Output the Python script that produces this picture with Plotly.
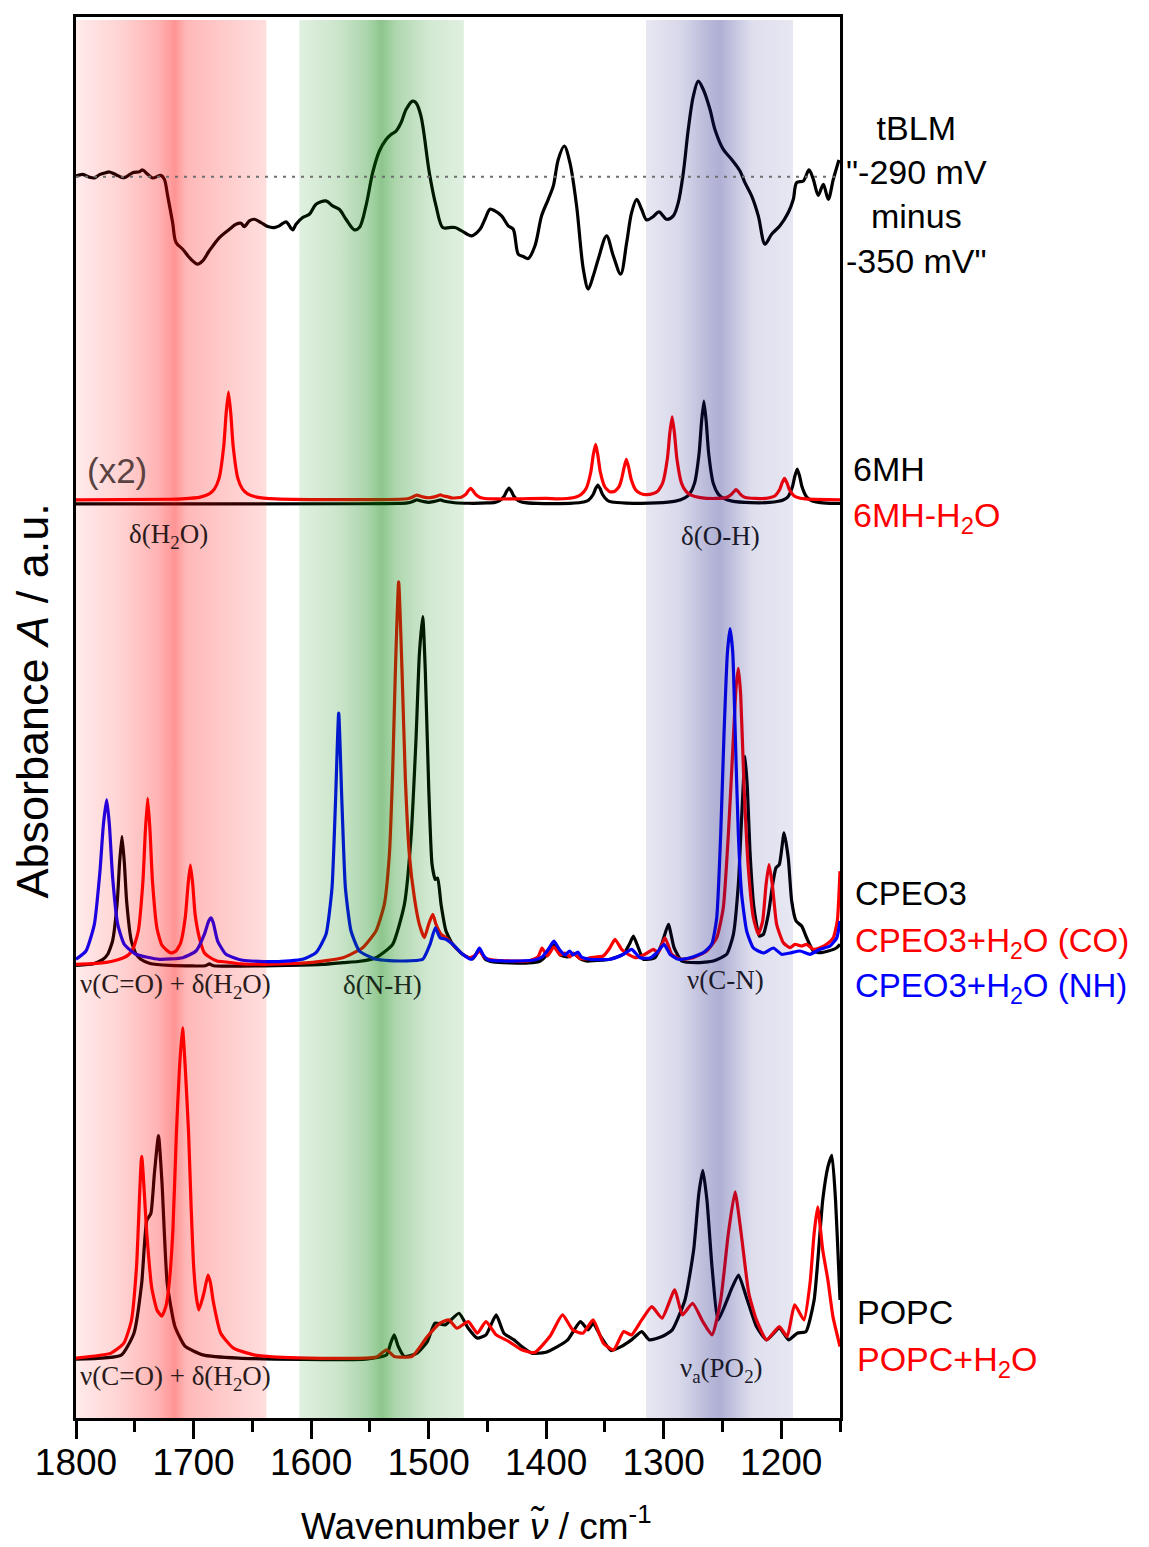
import plotly.graph_objects as go

# ---------------- data (wavenumber / cm-1, absorbance in a.u. relative to each baseline) ----------------
tblm_wn = [1800, 1794.3, 1788.7, 1784.4, 1780, 1774.5, 1771.6, 1766, 1760.3, 1757.5, 1751.8, 1746, 1743.3, 1739,
           1734.8, 1727.7, 1724.8, 1722, 1717.8, 1714.9, 1709.2, 1703.6, 1696.5, 1692.2, 1686.6, 1678, 1669.5,
           1663.9, 1659.6, 1656.8, 1652.5, 1648.3, 1642.6, 1636.9, 1631.3, 1627, 1621.3, 1615.7, 1612.8, 1607.1,
           1601.5, 1595.8, 1587.3, 1581.6, 1576, 1570.3, 1563.2, 1558.9, 1553.3, 1547.6, 1541.9, 1536.2, 1532,
           1527.7, 1523.5, 1519.2, 1513.6, 1510.7, 1506.5, 1499.4, 1493.7, 1488, 1482.4, 1477.6, 1471.9, 1463.4,
           1456.3, 1452.1, 1447.8, 1443.6, 1437.9, 1432.2, 1428, 1423.7, 1419.5, 1415.2, 1409.5, 1403.9, 1398.2,
           1393.9, 1389.7, 1384.6, 1379.8, 1374.1, 1368.4, 1364.2, 1359.9, 1355.7, 1348.6, 1342.9, 1336.6, 1331.5,
           1327.3, 1323, 1318.8, 1314.5, 1308.9, 1304, 1297.5, 1291.8, 1287.6, 1283.3, 1279.1, 1274.8, 1270.6,
           1266.3, 1260.6, 1256.4, 1249.3, 1242.2, 1235.1, 1230.9, 1225.2, 1219.5, 1213.8, 1208.2, 1201.1, 1194,
           1189.7, 1186.9, 1181.2, 1176.4, 1172.7, 1168.5, 1164.2, 1160, 1155.7, 1150.9]
tblm_abs = [0.7, 2.3, -0.5, -1.3, 2, 4, 4.7, 2, -1, -0.3, 4, 5, 6.7, 2.3,
            -1.3, 1.3, -2.7, -19.3, -46, -66, -72.7, -81, -87.7, -84.3, -74.3, -61, -52.7,
            -47.7, -46.7, -50, -44.3, -42.7, -46, -50, -51, -49.3, -45.3, -53.3, -47.7, -41,
            -37.7, -27.7, -24.3, -29.3, -32.7, -42.7, -53.3, -51, -29.3, 4, 25.7, 37.3, 42.3,
            45.7, 54, 67.3, 75.7, 74, 60.7, 4, -29.3, -51, -51, -51, -54.3, -59.3,
            -52.7, -42.7, -32.7, -34.3, -39.3, -49.3, -52.7, -77.7, -80, -82, -69.3, -39.3, -22.7,
            -9.3, 17.3, 30.7, 14, -29.3, -92.7, -112.7, -99.3, -82.7, -59.3, -79.3, -97.7, -66,
            -36, -22.7, -32.7, -43.3, -40, -35.3, -42.7, -39.3, -26, 4, 47.3, 80.7, 95.7,
            87.3, 67.3, 47.3, 27.3, 17.3, 5.7, -6, -19.3, -39.3, -67.7, -57.7, -49.3, -36,
            -22.7, -6, -4.3, 6.7, -2.7, -18.7, -7.7, -22.7, -2.7, 16.7]

mh_wn = [1800, 1560, 1526, 1518, 1514, 1512, 1510, 1508, 1504, 1500, 1496, 1492, 1490, 1488, 1484, 1478, 1466,
         1450, 1443.6, 1439.6, 1435.6, 1433.6, 1431.6, 1429.6, 1427.6, 1423.6, 1419.6, 1407.6, 1380, 1372, 1368,
         1364, 1360, 1358, 1356, 1354, 1352, 1348, 1344, 1332, 1306, 1290, 1282, 1277.8, 1273.8, 1269.8, 1267.8,
         1265.8, 1263.8, 1261.8, 1257.8, 1253.8, 1249.8, 1241.8, 1226, 1210, 1202.4, 1198.4, 1194.4, 1190.4,
         1188.4, 1186.4, 1184.4, 1182.4, 1178.4, 1174.4, 1170.4, 1162, 1150]
mh_abs = [0, 0.2, 0.5, 1.1, 2.3, 3.3, 4.2, 3.5, 2.3, 1.6, 2.3, 3.5, 4.2, 3.3, 2.2, 1.2, 0.7,
          1.0, 1.6, 3.2, 8, 12.8, 16, 12.8, 8, 3.2, 1.6, 0.5, 0.6, 1.2, 1.9,
          3.8, 9.5, 15.2, 19, 15.2, 9.5, 3.8, 1.9, 0.9, 1.0, 2.8, 6.1, 10.3, 20.6, 51.5, 82.4,
          103, 82.4, 51.5, 20.6, 10.3, 6.1, 2.8, 1.3, 1.5, 2.7, 4, 7, 17.5,
          28, 35, 28, 17.5, 7, 3.5, 2.1, 0.9, 0.5]

mhw_wn = [1800, 1720, 1710, 1694.3, 1686.3, 1682.3, 1678.3, 1674.3, 1672.3, 1670.3, 1668.3, 1666.3, 1662.3,
          1658.3, 1654.3, 1646.3, 1630, 1600, 1540, 1518, 1514, 1512, 1510, 1508, 1504, 1500, 1496, 1492,
          1490, 1488, 1484, 1480, 1472.2, 1468.2, 1466.2, 1464.2, 1462.2, 1460.2, 1456.2, 1452, 1440, 1420,
          1400, 1390, 1382, 1374, 1370, 1366, 1362, 1360, 1357.9, 1356, 1354, 1350, 1346, 1342, 1338, 1335.8,
          1333.8, 1331.8, 1329.8, 1327.8, 1323.8, 1319.8, 1315.8, 1308.8, 1304.8, 1300.8, 1296.8, 1294.8,
          1292.8, 1290.8, 1288.8, 1284.8, 1280.8, 1276.8, 1268.8, 1256, 1246.5, 1242.5, 1240.5, 1238.5, 1236.5,
          1234.5, 1230.5, 1222, 1213.2, 1209.2, 1205.2, 1201.2, 1199.2, 1197.2, 1195.2, 1193.2, 1189.2,
          1185.2, 1177, 1160, 1150]
mhw_abs = [0, 0.7, 1.1, 2.9, 6.4, 10.8, 21.6, 54, 86.4, 108, 86.4, 54, 21.6,
           10.8, 6.4, 2.9, 1.0, 0.4, 0.4, 1.2, 2.8, 4, 5, 4.2, 2.8, 2.2, 2.9, 4.3,
           5.2, 4.2, 3.3, 2, 2.8, 5.8, 9.3, 11.6, 9.3, 5.8, 2.4, 1.5, 1, 1.2,
           1.5, 1, 1.5, 3.3, 5.8, 11.4, 28, 44.6, 55.7, 44.8, 28.5, 13, 8.3, 8.4, 13.3, 21,
           32, 40.6, 32.7, 21.3, 10.1, 6.6, 5.4, 6.5, 9.1, 17.2, 42, 67,
           83.3, 66.4, 41.5, 16.6, 8.3, 4.9, 2.4, 1.5, 2.6, 5.5, 8, 10.3, 8.3,
           5.4, 2.4, 1.5, 1.6, 2.4, 4.3, 10.8, 17.3, 21.6, 17.3, 10.8, 4.3,
           2.2, 0.8, 0.3, 0.2]

cpeo_wn = [1800, 1785, 1776.9, 1772.9, 1768.9, 1764.9, 1762.9, 1760.9, 1758.9, 1756.9, 1752.9, 1748.9, 1744.9,
           1737, 1720, 1700, 1690, 1686.5, 1683, 1660, 1620, 1590, 1573, 1560, 1544.8, 1530.6, 1520.6, 1515,
           1510.7, 1507.9, 1505, 1502.8, 1499.9, 1497.1, 1494.3, 1492.3, 1489.4, 1485.2, 1479.5, 1471, 1462.5,
           1456.8, 1452, 1445, 1430, 1415, 1405, 1398, 1393.4, 1388, 1382, 1376, 1371, 1366, 1362.7, 1345.7,
           1334.3, 1329.2, 1325.8, 1321.6, 1317.3, 1307.4, 1301.7, 1296, 1291.2, 1284.7, 1271.9, 1257.8, 1246.4,
           1240.7, 1236.5, 1233.7, 1230.8, 1228.8, 1226.6, 1223.2, 1218.6, 1215.2, 1211, 1207.3, 1204.5, 1201.6,
           1197.6, 1194, 1191.1, 1187.4, 1182.6, 1178.4, 1172.7, 1167, 1160, 1152.8, 1150]
cpeo_abs = [1.5, 3.3, 7.7, 13, 26, 65.5, 105, 131, 105, 65.5, 26, 13, 7.7,
            3.5, 1.5, 1, 1.2, 3, 1.2, 0.8, 1.5, 2.5, 4.3, 5.5, 9.3, 22.7, 62.7, 129,
            229, 312.7, 351, 296, 179, 103, 87.7, 89, 62.7, 36, 22.7, 12.7, 8,
            18, 8, 5, 4, 4, 6, 14, 22, 12, 10, 13, 8, 6, 6, 7.7,
            12.7, 22.7, 31, 19.3, 7.7, 9.3, 22.7, 42.7, 19.3, 6, 4.3, 6, 12.7,
            32.7, 82.7, 149.3, 211, 179, 116, 59.3, 31, 32.7, 52.7, 82.7, 99.3, 102.7,
            134.3, 109, 66, 46, 41, 29.3, 16, 14.3, 16, 19.3, 22.7]

cpeo_co_wn = [1800, 1780, 1770, 1760, 1755, 1751, 1747, 1743, 1741, 1739, 1737, 1735, 1731, 1727, 1723, 1719,
              1715, 1711, 1707, 1704.7, 1702.7, 1700.7, 1698.7, 1695, 1690.7, 1686.6, 1680, 1672, 1660, 1644,
              1620, 1601.5, 1573, 1556.1, 1544.8, 1537.7, 1533.4, 1530.6, 1528.3, 1525.5, 1522.6, 1519.8,
              1516.4, 1512.1, 1507.9, 1503.6, 1500, 1496.5, 1493.7, 1489.4, 1485.2, 1479.5, 1471, 1465.3, 1460,
              1456.8, 1452, 1445, 1430, 1415, 1407, 1403.5, 1399, 1393.4, 1388, 1384, 1380, 1377, 1372, 1366,
              1362.7, 1351.4, 1345.7, 1341.4, 1335.8, 1330.1, 1323, 1315.9, 1308.8, 1304.6, 1298.9, 1293.2,
              1286.1, 1274.8, 1263.4, 1254.9, 1249.3, 1245, 1241.3, 1238.5, 1236.5, 1234.5, 1231.7, 1228,
              1223.7, 1219.5, 1215.8, 1212.9, 1210.4, 1207.6, 1203.9, 1198.2, 1192.5, 1188.3, 1182.6, 1178.4,
              1172.7, 1167, 1161.4, 1155.7, 1152.3, 1150]
cpeo_co_abs = [0.5, 1.8, 3.5, 7, 10.5, 17.5, 34, 85, 134, 167, 134, 85, 36, 20, 15, 12,
               14, 22, 48, 80, 100, 81, 51, 27, 12, 8, 4, 3, 1.2, 0.7,
               1.2, 2.3, 7.3, 17.3, 34, 60.7, 110.7, 194, 294, 384, 294, 187,
               110.7, 67.3, 40.7, 27.3, 40.7, 50.7, 40.7, 30.7, 27.3, 20.7, 10.7, 7, 10,
               14, 7, 5, 4, 4, 8, 17, 9, 18, 10, 12, 8, 12, 7, 6,
               7.3, 9, 17.3, 25.7, 15.7, 10.7, 7.3, 10.7, 15.7, 12.3, 27.3, 10.7,
               5.7, 7.3, 14, 27.3, 57.3, 130.7, 214, 277.3, 297.3, 270.7, 180.7, 97.3,
               47.3, 30.7, 44, 80.7, 100.7, 80.7, 40.7, 22.3, 17.3, 20.7, 19, 20.7,
               15.7, 17.3, 20.7, 27.3, 44, 94]

cpeo_nh_wn = [1800, 1791.5, 1784.4, 1779.6, 1776.7, 1773.9, 1771.6, 1768.8, 1764.5, 1758.9, 1748.9, 1729.1,
              1709.2, 1697.9, 1690.8, 1687.1, 1685.1, 1683.2, 1679.5, 1672.4, 1658.2, 1629.8, 1607.1, 1595.8,
              1587.3, 1582.2, 1579.3, 1576.5, 1573.7, 1570.8, 1566, 1558.9, 1544.8, 1522.1, 1505, 1498.8,
              1494.3, 1490.3, 1485.2, 1479.5, 1471, 1463.9, 1460, 1456.8, 1453, 1449, 1436, 1423, 1410, 1403.5,
              1398, 1393.4, 1389, 1384, 1380, 1377, 1373, 1370, 1362.7, 1345.7, 1334.3, 1327.3, 1320.2, 1311.7,
              1306, 1299.7, 1294.6, 1287.5, 1277.6, 1266.3, 1259.2, 1254.9, 1251.5, 1248.7, 1245.9, 1243.6,
              1241.3, 1239.1, 1236.5, 1233.7, 1229.4, 1223.7, 1215.2, 1206.7, 1199.6, 1192.5, 1184, 1175.5,
              1167, 1158.5, 1152.8, 1150]
cpeo_nh_abs = [3.7, 12, 38.7, 92, 138.7, 163.7, 138.7, 85.3, 38.7, 18.7, 8.7, 3.7,
               5.3, 12, 28.7, 42, 45.3, 40.3, 22, 8.7, 2.7, 1.3, 3.7, 10.3,
               28.7, 75.3, 158.7, 250.3, 158.7, 75.3, 32, 12, 3.7, 2, 3.7, 18.7,
               35.3, 25.3, 23.7, 18.7, 8.7, 3.7, 8, 15, 7, 3, 2, 2, 3, 6,
               14, 22, 14, 8, 12, 8, 11, 6, 3.7, 3.7, 8.7, 13.7, 5.3, 5,
               10, 18.7, 8.7, 3.7, 5.3, 10.3, 18.7, 45, 129, 229, 309, 335,
               312, 229, 129, 69, 32, 15, 10, 15, 8.7, 10, 12, 8.7,
               13.7, 17, 25, 42]

popc_wn = [1800, 1761.5, 1750.7, 1744.1, 1739.8, 1736.3, 1733.3, 1729.8, 1726.8, 1722.4, 1715.9, 1707.3, 1692.1,
           1661.7, 1553.2, 1535.8, 1532.3, 1529.3, 1525.8, 1520.6, 1509.8, 1501.1, 1494.6, 1485.9, 1474.2,
           1466.3, 1458.5, 1451.2, 1442.5, 1436, 1427.3, 1420.8, 1412.1, 1401.2, 1390.4, 1381.7, 1370.9,
           1364.3, 1360, 1353.5, 1344.8, 1336.2, 1327.4, 1318.7, 1312.2, 1301.4, 1292.7, 1281.9, 1274.5,
           1270.1, 1266.7, 1263.2, 1258.9, 1253.7, 1247.2, 1241.5, 1236.3, 1229.8, 1221.1, 1212.4, 1201.6,
           1193.7, 1186.4, 1179, 1172, 1164.7, 1160.3, 1156.9, 1153.8, 1151.2, 1150]
popc_abs = [0, 4, 26, 76, 139, 146, 186, 224, 176, 76, 33, 13, 4.3,
            1, 0, 4.3, 16, 24.3, 12.6, 2.6, 6, 17.6, 36, 34.3, 46,
            31, 21, 24.3, 44.3, 26, 19.3, 12.6, 6, 6.6, 12.6, 19.3, 37.6,
            29.3, 36, 22.6, 8.6, 12.6, 19.3, 27.6, 19.3, 22.6, 29.3, 59.3, 109.3,
            166, 189.3, 159.3, 92.6, 39.3, 56, 72.6, 84.3, 62.6, 32.6, 19.3, 31,
            19.3, 26, 27.6, 59.3, 159.3, 192.6, 204.3, 159.3, 92.6, 59.3]

popc_w_wn = [1800, 1770.2, 1759.3, 1752.8, 1748.5, 1744.1, 1739.8, 1735.5, 1731, 1727, 1723.5, 1720.3, 1717.5,
             1714.6, 1712, 1709.4, 1707, 1704.2, 1702, 1699.9, 1697.5, 1695.5, 1691.2, 1687.7, 1685.5, 1683.4,
             1676.9, 1666, 1648.7, 1618.3, 1544.5, 1535.8, 1529.3, 1514.1, 1501.1, 1490.2, 1482.8, 1475.9,
             1466.3, 1458.5, 1451.2, 1442.5, 1431.6, 1420.8, 1409.9, 1396.9, 1386.1, 1377.4, 1368.7, 1360,
             1351.3, 1342.6, 1334, 1327.4, 1318.7, 1310.1, 1301.4, 1290.6, 1284.1, 1275.4, 1266.7, 1258.9,
             1251.5, 1245, 1239.3, 1234.1, 1227.6, 1221.1, 1212.4, 1201.6, 1195, 1188.6, 1180.7, 1175.5, 1172,
             1169, 1164.7, 1160.3, 1156, 1150]
popc_w_abs = [0, 5, 15, 38, 91.6, 202.3, 125, 70, 48, 42, 52, 80, 130,
              225, 290, 331, 290, 225, 150, 91.6, 60, 48.3, 65, 83.3, 75, 58,
              25, 10, 3.3, 0.5, 1, 8.3, 1.7, 1.7, 21.6, 35, 38.3, 30,
              36.6, 25, 36.6, 23.3, 16.6, 8.3, 5.6, 21.6, 43.3, 28.3, 25, 38.3,
              15, 8.3, 26.6, 23.3, 38.3, 51.6, 40, 68.3, 43.3, 55, 36.6, 23.3,
              58.3, 125, 166.6, 125, 65, 38.3, 18.3, 31.6, 21.6, 53.3, 38.3, 75, 125,
              151.6, 108.3, 78.3, 41.6, 11.6]

# stacking offsets of the spectra (a.u.)
OFF = dict(tblm=1244, mh=916, mhw=920, cpeo=452, cpeo_co=454, cpeo_nh=456, popc=59, popc_w=60)

# highlighted spectral regions: (start, stop, rgb, [(position, alpha), ...])
bands = [
    (1800, 1638, (255, 0, 0), [(0, .08), (.247, .18), (.432, .30), (.519, .42), (.58, .28), (.741, .22), (1, .13)]),
    (1610, 1470, (0, 128, 0), [(0, .12), (.25, .21), (.414, .33), (.5, .45), (.586, .32), (.786, .18), (1, .12)]),
    (1315, 1190, (20, 20, 130), [(0, .10), (.24, .17), (.424, .30), (.504, .34), (.6, .25), (.72, .14), (1, .10)]),
]

SANS = "Arial, Liberation Sans, sans-serif"
SERIF = "Times New Roman, Liberation Serif, serif"
YMAX = 1404

fig = go.Figure()


def spec(x, y, off, color, smooth=0.5):
    fig.add_trace(go.Scatter(x=x, y=[v + off for v in y], mode="lines",
                             line=dict(color=color, width=3.2, shape="spline", smoothing=smooth),
                             hoverinfo="skip"))


spec(tblm_wn, tblm_abs, OFF["tblm"], "black", 0.9)
spec(mh_wn, mh_abs, OFF["mh"], "black")
spec(mhw_wn, mhw_abs, OFF["mhw"], "#ff0000")
spec(cpeo_wn, cpeo_abs, OFF["cpeo"], "black")
spec(cpeo_co_wn, cpeo_co_abs, OFF["cpeo_co"], "#ff0000")
spec(cpeo_nh_wn, cpeo_nh_abs, OFF["cpeo_nh"], "#0000ff")
spec(popc_wn, popc_abs, OFF["popc"], "black")
spec(popc_w_wn, popc_w_abs, OFF["popc_w"], "#ff0000")

# gradient bands drawn on top (semi-transparent) so they tint the curves
for x0, x1, (r, g, b), stops in bands:
    cs = [[p, f"rgba({r},{g},{b},{a})"] for p, a in stops]
    fig.add_trace(go.Scatter(x=[x0, x1, x1, x0, x0], y=[-5, -5, YMAX - 3, YMAX - 3, -5],
                             mode="lines", line=dict(width=0), fill="toself",
                             fillgradient=dict(type="horizontal", start=x0, stop=x1, colorscale=cs),
                             hoverinfo="skip"))

# dotted zero line of the difference spectrum
fig.add_shape(type="line", xref="paper", x0=0, x1=1, y0=OFF["tblm"], y1=OFF["tblm"],
              line=dict(color="#6f6f6f", width=2, dash="3px,6px"), layer="above")

ann = []


def txt(text, x, y, size, color="black", family=SANS, xref="x", yref="y", xanchor="center", **kw):
    ann.append(dict(text=text, x=x, y=y, xref=xref, yref=yref, xanchor=xanchor, yanchor="middle",
                    showarrow=False, font=dict(size=size, color=color, family=family), **kw))


# in-plot band assignments
txt("δ(H<sub>2</sub>O)", 1721, 884, 27, "#2a1a1a", SERIF)
txt("δ(O-H)", 1252, 884, 27, "#1a1a2a", SERIF)
txt("(x2)", 1765, 950, 35, "#5a4242")
txt("ν(C=O) + δ(H<sub>2</sub>O)", 1715, 433, 27, "#2a1a1a", SERIF)
txt("δ(N-H)", 1539, 434, 27, "#1a2a1a", SERIF)
txt("ν(C-N)", 1247, 439, 27, "#1a1a2a", SERIF)
txt("ν(C=O) + δ(H<sub>2</sub>O)", 1715, 40, 27, "#2a1a1a", SERIF)
txt("ν<sub>a</sub>(PO<sub>2</sub>)", 1251, 48, 27, "#1a1a2a", SERIF)

# right-hand spectrum labels
txt('tBLM<br>"-290 mV<br>minus<br>-350 mV"', 1.1000, 0.8735, 34, xref="paper", yref="paper")
txt("6MH", 1.0140, 0.6774, 34, xref="paper", yref="paper", xanchor="left")
txt("6MH-H<sub>2</sub>O", 1.0140, 0.6430, 34, "#ff0000", xref="paper", yref="paper", xanchor="left")
txt("CPEO3", 1.0170, 0.3746, 33, xref="paper", yref="paper", xanchor="left")
txt("CPEO3+H<sub>2</sub>O (CO)", 1.0170, 0.3390, 33, "#ff0000", xref="paper", yref="paper", xanchor="left")
txt("CPEO3+H<sub>2</sub>O (NH)", 1.0170, 0.3070, 33, "#0000ff", xref="paper", yref="paper", xanchor="left")
txt("POPC", 1.0200, 0.0757, 34, xref="paper", yref="paper", xanchor="left")
txt("POPC+H<sub>2</sub>O", 1.0200, 0.0405, 34, "#ff0000", xref="paper", yref="paper", xanchor="left")

# axis titles
txt("Wavenumber <i>ν̃</i> / cm<sup>-1</sup>", 0.5236, -0.0755, 37, xref="paper", yref="paper")
txt("Absorbance <i>A</i> / a.u.", -0.0563, 0.5121, 45, xref="paper", yref="paper", textangle=-90)

# page body has an 8 px margin: shrink figure and margins accordingly
fig.update_layout(
    width=1141, height=1539,
    margin=dict(l=68, r=309, t=6, b=129),
    plot_bgcolor="white", paper_bgcolor="white",
    showlegend=False,
    annotations=ann,
    xaxis=dict(range=[1800, 1150], tickmode="linear", tick0=1200, dtick=100,
               ticks="outside", ticklen=18, tickwidth=2.5, tickcolor="black",
               ticklabelstandoff=-8,
               minor=dict(tickmode="linear", tick0=1150, dtick=100, ticks="outside", ticklen=11,
                          tickwidth=2.5, tickcolor="black"),
               tickfont=dict(size=37, family=SANS, color="black"),
               showline=True, linewidth=2.5, linecolor="black", mirror=True,
               showgrid=False, zeroline=False),
    yaxis=dict(range=[0, YMAX], showticklabels=False, ticks="",
               showline=True, linewidth=2.5, linecolor="black", mirror=True,
               showgrid=False, zeroline=False),
)

fig.write_html("out.html")
